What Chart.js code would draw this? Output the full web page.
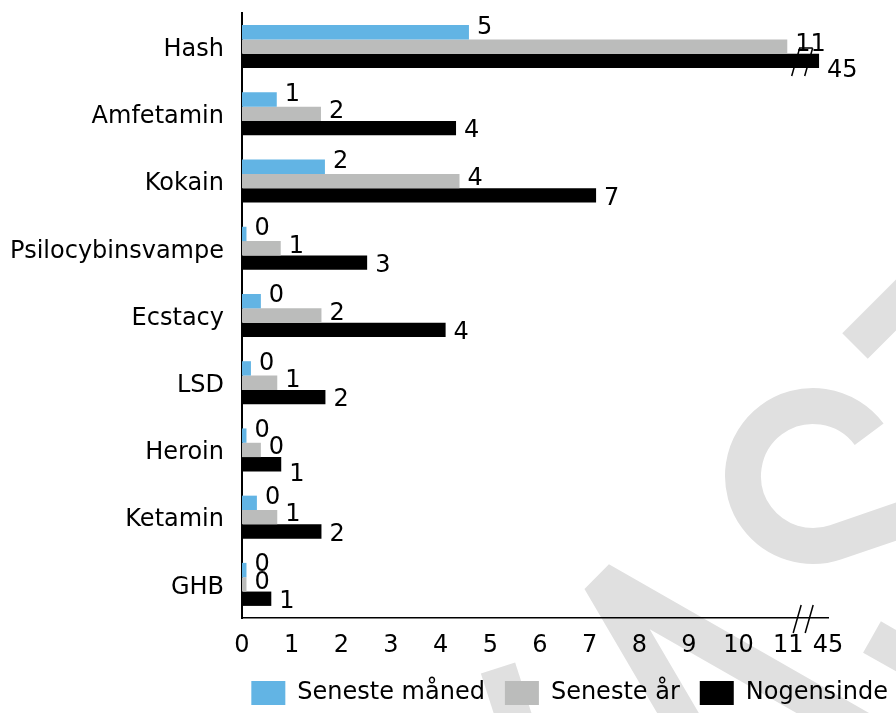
<!DOCTYPE html>
<html>
<head>
<meta charset="utf-8">
<script src="https://cdn.jsdelivr.net/npm/chart.js@4.4.1/dist/chart.umd.min.js"></script>
<style>
  html, body { margin: 0; padding: 0; background: #fff; }
  #wrap { width: 896px; height: 713px; }
</style>
</head>
<body>
<div id="wrap"><canvas id="chart" width="896" height="713"></canvas></div>
<script>
const categories = ["Hash", "Amfetamin", "Kokain", "Psilocybinsvampe", "Ecstacy", "LSD", "Heroin", "Ketamin", "GHB"];
const seriesNames = ["Seneste måned", "Seneste år", "Nogensinde"];
const lastMonth = [4.57, 0.70, 1.67, 0.09, 0.38, 0.18, 0.09, 0.30, 0.09];
const lastYear = [10.98, 1.59, 4.38, 0.78, 1.60, 0.71, 0.38, 0.71, 0.09];
const ever = [45, 4.31, 7.13, 2.52, 4.10, 1.68, 0.79, 1.60, 0.59];
const xTicks = [0, 1, 2, 3, 4, 5, 6, 7, 8, 9, 10, 11];
const colors = ["#62b4e4", "#bbbcbb", "#000000"];

// the x axis is broken after 11, the last tick stands for 45
const breakFrom = 11;
const breakTick = 45;
const axisMax = 11.8;
const cutBarEnd = 11.62;

const FONT = '"DejaVu Sans", Verdana, sans-serif';
Chart.defaults.font.family = FONT;
Chart.defaults.font.size = 24;
Chart.defaults.color = "#000";

const plotted = vals => vals.map(v => (v > breakFrom ? cutBarEnd : v));

const labelOffsets = [-5, -2, 3];

const barLabels = {
  id: "barLabels",
  afterDatasetsDraw(chart) {
    const ctx = chart.ctx;
    ctx.save();
    ctx.font = "24px " + FONT;
    ctx.fillStyle = "#000";
    ctx.textAlign = "left";
    ctx.textBaseline = "middle";
    categories.forEach((c, j) => {
      let prevEnd = -Infinity;
      chart.data.datasets.forEach((ds, i) => {
        const bar = chart.getDatasetMeta(i).data[j];
        const text = String(Math.round(ds.values[j]));
        const x = bar.x + 8;
        let dy = labelOffsets[i];
        // push the label down when it crowds the one above
        if (i === 2 && x - prevEnd < 8) dy += 7;
        ctx.fillText(text, x, bar.y + dy);
        prevEnd = x + ctx.measureText(text).width;
      });
    });
    ctx.restore();
  },
};

// "//" marks for the broken axis
const breakMarks = {
  id: "breakMarks",
  afterDraw(chart) {
    const ctx = chart.ctx;
    const xs = chart.scales.x;
    const area = chart.chartArea;
    ctx.save();
    ctx.strokeStyle = "#000";
    ctx.lineWidth = 1.5;
    // on the axis
    let cx = xs.getPixelForValue(11.3);
    let y = area.bottom;
    [-6, 6].forEach(d => {
      ctx.beginPath();
      ctx.moveTo(cx + d - 4, y + 15);
      ctx.lineTo(cx + d + 4, y - 13);
      ctx.stroke();
    });
    // on the cut bar
    chart.data.datasets.forEach((ds, i) => {
      chart.getDatasetMeta(i).data.forEach((bar, j) => {
        if (ds.values[j] <= breakFrom) return;
        const bx = xs.getPixelForValue(11.27);
        const top = bar.y - 13;
        const bottom = bar.y + 15;
        ctx.beginPath();
        ctx.moveTo(bx - 10, bottom);
        ctx.lineTo(bx - 2, top);
        ctx.lineTo(bx + 11, top);
        ctx.moveTo(bx + 3, bottom);
        ctx.lineTo(bx + 11, top);
        ctx.stroke();
      });
    });
    ctx.restore();
  },
};

// light grey watermark behind the chart
const watermark = {
  id: "watermark",
  beforeDraw(chart) {
    const ctx = chart.ctx;
    ctx.save();
    ctx.strokeStyle = "#e0e0e0";
    ctx.lineWidth = 36;
    ctx.lineCap = "butt";
    ctx.lineJoin = "bevel";
    ctx.beginPath();
    ctx.moveTo(855, 346);
    ctx.lineTo(940, 261);
    ctx.stroke();
    ctx.beginPath();
    ctx.arc(813, 476, 70, -0.64, 1.24, true);
    ctx.lineTo(930, 510);
    ctx.stroke();
    ctx.beginPath();
    ctx.moveTo(685, 725);
    ctx.lineTo(600, 580);
    ctx.lineTo(880, 740);
    ctx.stroke();
    ctx.beginPath();
    ctx.moveTo(498, 668);
    ctx.lineTo(518, 730);
    ctx.stroke();
    ctx.beginPath();
    ctx.moveTo(872, 637);
    ctx.lineTo(930, 670);
    ctx.stroke();
    ctx.restore();
  },
};

const legendShift = {
  id: "legendShift",
  afterLayout(chart) {
    chart.legend.left += 12;
    chart.legend.right += 12;
    chart.legend.top += 2;
    chart.legend.bottom += 2;
  },
};

const noEdgePadding = s => {
  s.paddingTop = 0;
  s.paddingBottom = 0;
};

new Chart(document.getElementById("chart"), {
  type: "bar",
  data: {
    labels: categories,
    datasets: [lastMonth, lastYear, ever].map((vals, i) => ({
      label: seriesNames[i],
      data: plotted(vals),
      values: vals,
      backgroundColor: colors[i],
      borderWidth: 0,
      categoryPercentage: 0.64,
      barPercentage: 1,
    })),
  },
  options: {
    indexAxis: "y",
    responsive: false,
    animation: false,
    layout: { padding: { top: 13, left: 0, right: 0, bottom: 0 } },
    scales: {
      y: {
        type: "category",
        position: "left",
        grid: { display: false, drawTicks: false },
        border: { display: true, color: "#000", width: 2 },
        ticks: { padding: 18, font: { size: 24 }, color: "#000", labelOffset: 3 },
        afterFit: s => { s.width = 242; noEdgePadding(s); },
      },
      pad: {
        type: "category",
        position: "right",
        display: true,
        grid: { display: false, drawTicks: false },
        border: { display: false },
        ticks: { display: false },
        afterFit: s => { s.width = 68; noEdgePadding(s); },
      },
      x: {
        type: "linear",
        min: 0,
        max: axisMax,
        grid: { display: false, drawTicks: false },
        border: { display: true, color: "#000", width: 1.5 },
        ticks: {
          padding: 13,
          font: { size: 24 },
          color: "#000",
          autoSkip: false,
          maxRotation: 0,
          callback: v => (v === axisMax ? String(breakTick) : String(v)),
        },
        afterBuildTicks: s => {
          s.ticks = xTicks.concat([axisMax]).map(v => ({ value: v }));
        },
        afterFit: s => { s.height = 41; },
      },
    },
    plugins: {
      legend: {
        position: "bottom",
        align: "end",
        labels: { boxWidth: 34, boxHeight: 24, padding: 20, font: { size: 24 }, color: "#000" },
      },
      tooltip: { enabled: false },
    },
  },
  plugins: [watermark, barLabels, breakMarks, legendShift],
});
</script>
</body>
</html>
